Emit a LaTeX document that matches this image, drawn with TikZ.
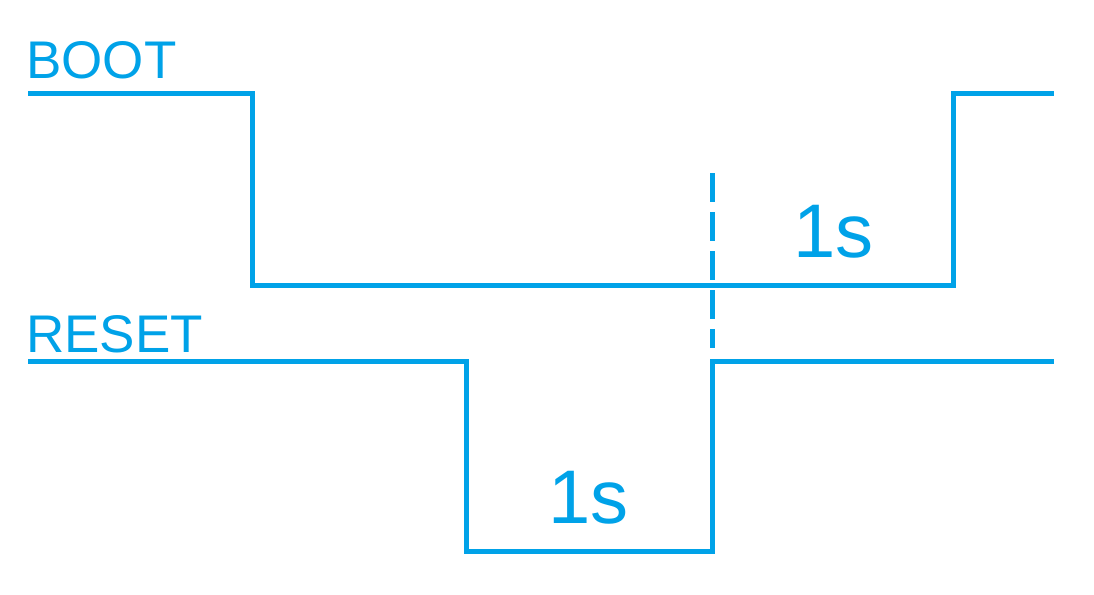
\documentclass[tikz,border=0pt]{standalone}
\usepackage{fontspec}
\setmainfont{Liberation Sans}
\definecolor{sig}{HTML}{00A2E8}
\begin{document}
\begin{tikzpicture}[x=1pt,y=-1pt,
  wave/.style={draw=sig,line width=5pt,line join=miter},
  dashmark/.style={draw=sig,line width=5pt,dash pattern=on 29pt off 10pt},
  lbl/.style={text=sig,anchor=base west,inner sep=0pt,font=\fontsize{53}{60}\selectfont},
  dur/.style={text=sig,anchor=base west,inner sep=0pt,font=\fontsize{76}{90}\selectfont}]
\useasboundingbox (0,0) rectangle (1094,594);
% BOOT waveform
\coordinate (b0) at (28,93);
\coordinate (b1) at (252,93);
\coordinate (b2) at (252,285);
\coordinate (b3) at (953,285);
\coordinate (b4) at (953,93);
\coordinate (b5) at (1054,93);
\draw[wave] (b0) -- (b1) -- (b2) -- (b3) -- (b4) -- (b5);
% RESET waveform
\coordinate (r0) at (28,361);
\coordinate (r1) at (466,361);
\coordinate (r2) at (466,551);
\coordinate (r3) at (712,551);
\coordinate (r4) at (712,361);
\coordinate (r5) at (1054,361);
\draw[wave] (r0) -- (r1) -- (r2) -- (r3) -- (r4) -- (r5);
% dashed marker
\coordinate (d0) at (712,173);
\coordinate (d1) at (712,348);
\draw[dashmark] (d0) -- (d1);
% labels
\node[lbl] (boot) at (26,78) {BOOT};
\node[lbl] (reset) at (26,352) {RESET};
\node[dur] (t1) at (548,523) {1s};
\node[dur] (t2) at (793,257) {1s};
\end{tikzpicture}
\end{document}
